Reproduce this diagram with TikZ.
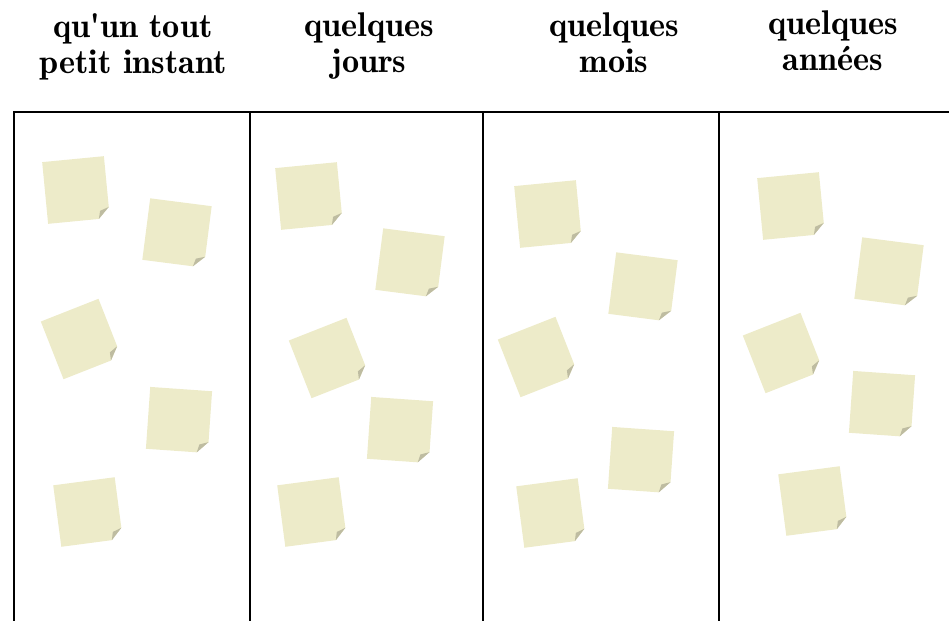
\documentclass[tikz,border=0pt]{standalone}
\usepackage{fontspec}
\newfontfamily\headfont{lmromandemi10-regular.otf}
\usetikzlibrary{positioning}

\definecolor{noteFill}{HTML}{EDEBC9}
\definecolor{noteFold}{HTML}{BEBCA1}

\begin{document}
\begin{tikzpicture}[
    x=0.02cm, y=-0.02cm,
    header/.style={font=\headfont\fontsize{19.5}{20.4}\selectfont, align=center,
                   anchor=base, inner sep=0pt},
    rule/.style={black, line width=1.1pt},
    postit/.pic={
        \fill[noteFill] (-31,-31) -- (31,-31) -- (31,20) -- (20,31) -- (-31,31) -- cycle;
        \fill[noteFold] (31,20) -- (20,31) -- (22,23) -- cycle;
    },
]

% Page frame
\useasboundingbox (0,0) rectangle (949,620);

% Column headers (anchored on the last line's baseline)
\node[header] (h_instant) at (133,73) {qu'un tout\\petit instant};
\node[header] (h_jours)   at (369,72) {quelques\\jours};
\node[header] (h_mois)    at (614,72) {quelques\\mois};
\node[header] (h_annees)  at (833,70) {quelques\\ann\'ees};

% Table rules
\draw[rule] (13,112) -- (949,112);
\foreach \xr in {14,250,483,719}
    \draw[rule] (\xr,112) -- (\xr,622);

% Sticky notes, five per column
\foreach \cx/\cy/\ang in {
    76/190/5.5, 177/233/-7.3, 81/339/21.5, 179/420/-4, 88/512/7.5,
    309/196/5.5, 410/263/-7.3, 329/358/21.5, 400/430/-4, 312/512/7.5,
    548/214/5.5, 643/287/-7.3, 538/357/21.5, 641/460/-4, 551/513/7.5,
    791/206/5.5, 889/272/-7.3, 783/353/21.5, 882/404/-4, 813/501/7.5}
    \pic[rotate=\ang] at (\cx,\cy) {postit};

\end{tikzpicture}
\end{document}
